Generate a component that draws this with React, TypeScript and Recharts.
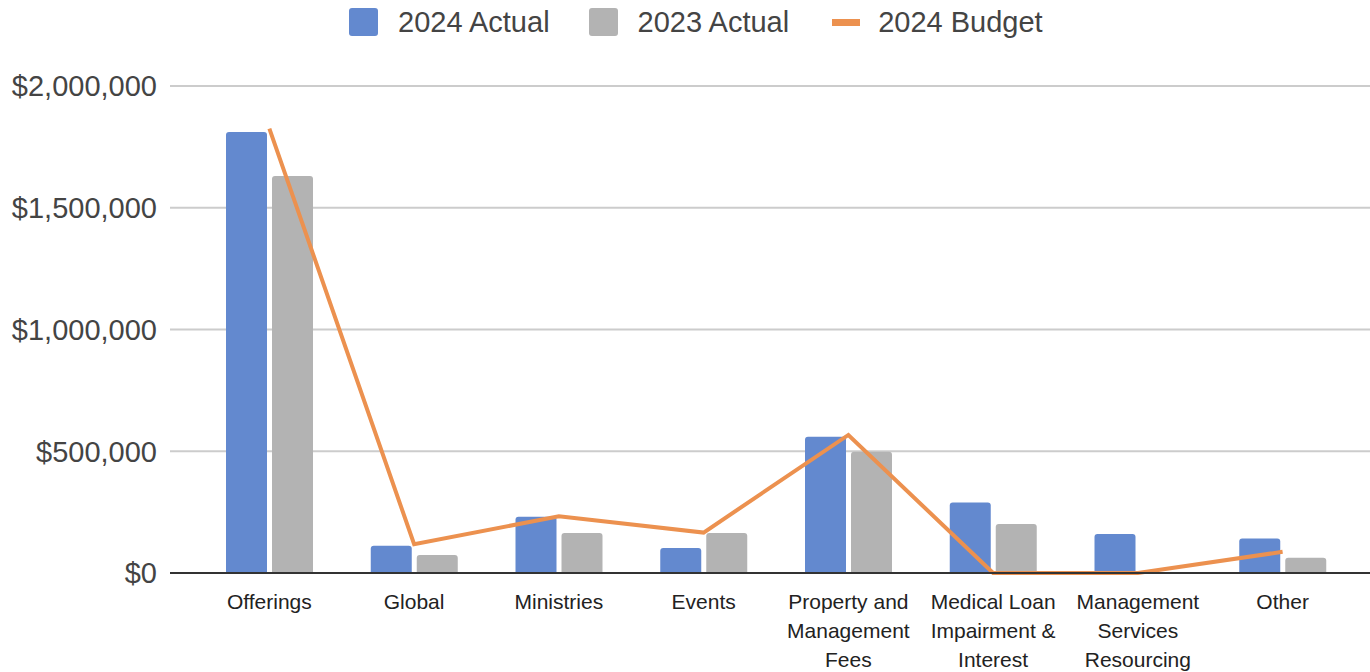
import React from 'react';
import { ComposedChart, Bar, Line, XAxis, YAxis, CartesianGrid, Legend } from 'recharts';

const categories = [
  'Offerings',
  'Global',
  'Ministries',
  'Events',
  'Property and Management Fees',
  'Medical Loan Impairment & Interest',
  'Management Services Resourcing',
  'Other',
];
const tickLines = [
  ['Offerings'],
  ['Global'],
  ['Ministries'],
  ['Events'],
  ['Property and', 'Management', 'Fees'],
  ['Medical Loan', 'Impairment &', 'Interest'],
  ['Management', 'Services', 'Resourcing'],
  ['Other'],
];
const actual2024 = [1811000, 112000, 231000, 103000, 560000, 290000, 160000, 142000];
const actual2023 = [1630000, 74000, 164000, 164000, 498000, 201000, 0, 63000];
const budget2024 = [1825000, 118000, 233000, 166000, 567000, 0, 0, 87000];
const yTicks = [0, 500000, 1000000, 1500000, 2000000];

const seriesNames = ['2024 Actual', '2023 Actual', '2024 Budget'];
const colors = { a24: '#6389cf', a23: '#b3b3b3', b24: '#ec914f' };

const data = categories.map((c, i) => ({
  category: c,
  a24: actual2024[i],
  a23: actual2023[i],
  b24: budget2024[i],
}));

const FONT = '"Liberation Sans", Arial, sans-serif';

const fmt = (v: number) => '$' + v.toLocaleString('en-US');

const CategoryTick = (props: any) => {
  const { x, y, payload } = props;
  const idx = categories.indexOf(payload.value);
  const lines = tickLines[idx] || [payload.value];
  return (
    <g>
      <text x={x} y={y} textAnchor="middle" fill="#222" fontSize={21} fontFamily={FONT}>
        {lines.map((l, i) => (
          <tspan key={i} x={x} dy={i === 0 ? 34 : 29}>
            {l}
          </tspan>
        ))}
      </text>
    </g>
  );
};

const LegendContent = () => {
  const item = (icon: React.ReactNode, label: string, gapAfterIcon: number, ml: number) => (
    <div style={{ display: 'flex', alignItems: 'center', marginLeft: ml }}>
      {icon}
      <span style={{ marginLeft: gapAfterIcon, fontSize: 29, color: '#444', fontFamily: FONT, whiteSpace: 'nowrap' }}>{label}</span>
    </div>
  );
  return (
    <div style={{ height: 44, display: 'flex', alignItems: 'center', paddingLeft: 349 }}>
      {item(<div style={{ width: 29, height: 28, background: colors.a24, borderRadius: 3 }} />, seriesNames[0], 20, 0)}
      {item(<div style={{ width: 29, height: 28, background: colors.a23, borderRadius: 3 }} />, seriesNames[1], 20, 39)}
      {item(<div style={{ width: 28, height: 7, background: colors.b24 }} />, seriesNames[2], 18, 43)}
    </div>
  );
};

export default function App() {
  return (
    <div style={{ position: 'absolute', left: 0, top: 0, width: 1370, height: 672, background: '#fff' }}>
      <ComposedChart
        width={1370}
        height={672}
        data={data}
        margin={{ top: 42, right: 0, bottom: 0, left: 0 }}
        barGap={5}
      >
        <Legend verticalAlign="top" content={<LegendContent />} wrapperStyle={{ top: 0, left: 0, width: 1370, height: 44 }} />
        <CartesianGrid vertical={false} stroke="#cccccc" strokeWidth={2} />
        <XAxis
          dataKey="category"
          interval={0}
          tickLine={false}
          tickSize={0}
          height={99}
          padding={{ left: 27, right: 15 }}
          axisLine={{ stroke: '#333', strokeWidth: 2 }}
          tick={<CategoryTick />}
        />
        <YAxis
          domain={[0, 2000000]}
          ticks={yTicks}
          tickFormatter={fmt}
          axisLine={false}
          tickLine={false}
          tickSize={0}
          tickMargin={13}
          width={170}
          tick={{ fontSize: 29, fill: '#444', fontFamily: FONT }}
        />
        <Bar dataKey="a24" name={seriesNames[0]} fill={colors.a24} barSize={41} radius={[3, 3, 0, 0]} isAnimationActive={false} />
        <Bar dataKey="a23" name={seriesNames[1]} fill={colors.a23} barSize={41} radius={[3, 3, 0, 0]} isAnimationActive={false} />
        <Line
          dataKey="b24"
          name={seriesNames[2]}
          type="linear"
          stroke={colors.b24}
          strokeWidth={4}
          dot={false}
          activeDot={false}
          isAnimationActive={false}
        />
      </ComposedChart>
    </div>
  );
}
